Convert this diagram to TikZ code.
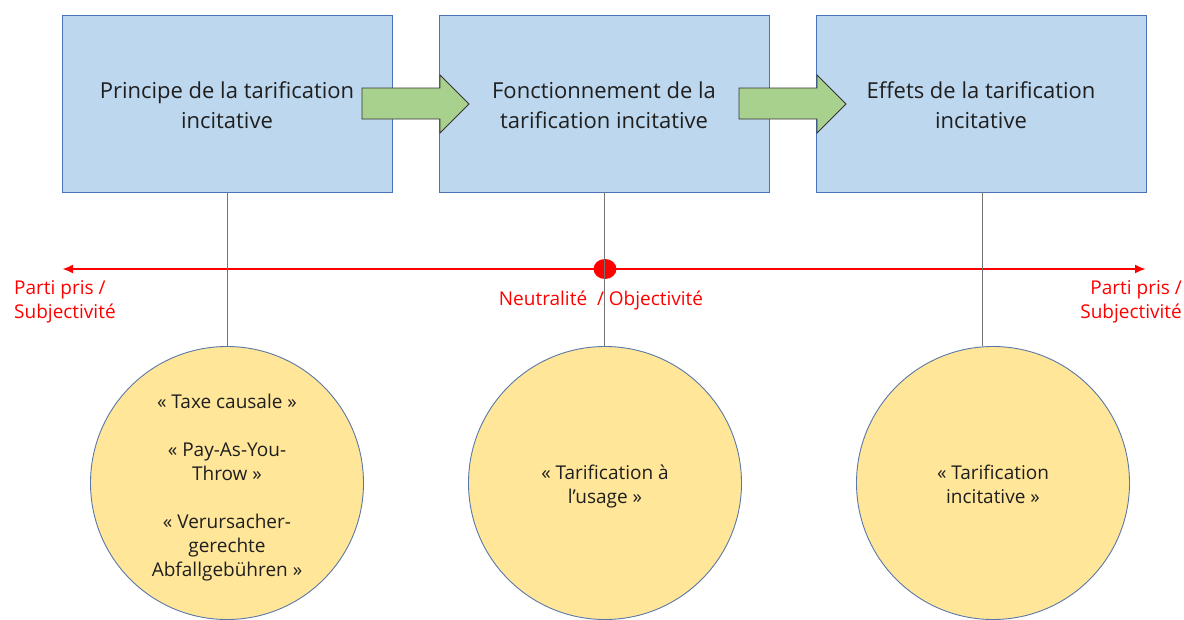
\documentclass[tikz,border=0pt]{standalone}
\usepackage{fontspec}
\setmainfont{Open Sans}
\usetikzlibrary{arrows.meta,shapes.geometric}
\definecolor{boxfill}{HTML}{BDD7EE}
\definecolor{boxdraw}{HTML}{4A72B8}
\definecolor{arrfill}{HTML}{A9D18E}
\definecolor{circfill}{HTML}{FFE699}
\definecolor{circdraw}{HTML}{5A78A8}
\definecolor{axisred}{HTML}{FF0000}
\tikzset{
  stagebox/.style={draw=boxdraw, line width=0.9pt, fill=boxfill, minimum width=330pt, minimum height=177pt, inner sep=0pt},
  boxtext/.style={align=center, inner sep=0pt, font=\fontsize{22}{30}\selectfont, text=black!88},
  bubble/.style={circle, draw=circdraw, line width=0.9pt, fill=circfill, minimum size=273pt, inner sep=0pt},
  bubbletext/.style={align=center, inner sep=0pt, font=\fontsize{19}{24}\selectfont, text=black!88},
  blockarrow/.style={draw=black!80, line width=0.9pt, fill=arrfill},
  link/.style={draw=black!55, line width=0.8pt},
  redlabel/.style={text=axisred, font=\fontsize{19}{24}\selectfont, inner sep=0pt}
}
\begin{document}
\begin{tikzpicture}[x=1pt,y=-1pt]
\useasboundingbox (0,0) rectangle (1184,619);
% boxes
\node[stagebox] (b1) at (227,103.5) {};
\node[stagebox] (b2) at (604,103.5) {};
\node[stagebox] (b3) at (981,103.5) {};
\node[boxtext] (t1) at (227,105) {Principe de la tarification\\incitative};
\node[boxtext] (t2) at (604,105) {Fonctionnement de la\\tarification incitative};
\node[boxtext] (t3) at (981,105) {Effets de la tarification\\incitative};
% block arrows
\draw[blockarrow] (362,88) -- (440,88) -- (440,75) -- (469,104) -- (440,133) -- (440,119) -- (362,119) -- cycle;
\draw[blockarrow] (739,88) -- (817,88) -- (817,75) -- (846,104) -- (817,133) -- (817,119) -- (739,119) -- cycle;
% circles
\node[bubble] (c1) at (227,483) {};
\node[bubble] (c2) at (605,483) {};
\node[bubble] (c3) at (993,483) {};
\node[bubbletext] (ct1) at (227,488) {« Taxe causale »\\[24pt]« Pay-As-You-\\Throw »\\[24pt]« Verursacher-\\gerechte\\Abfallgebühren »};
\node[bubbletext] (ct2) at (605,486) {« Tarification à\\l’usage »};
\node[bubbletext] (ct3) at (993,484) {« Tarification\\incitative »};
% axis
\coordinate (axl) at (62,269);
\coordinate (axr) at (1146,269);
\draw[axisred, line width=2.6pt, {Latex[length=11pt,width=9pt]}-{Latex[length=11pt,width=9pt]}] (axl) -- (axr);
\node[fill=axisred, ellipse, minimum width=23pt, minimum height=20pt, inner sep=0pt] (dot) at (605,269) {};
% links
\coordinate (l3top) at (982,192);
\coordinate (l3bot) at (982,346);
\draw[link] (b1.south) -- (b1.south |- c1.north);
\draw[link] (b2.south) -- (b2.south |- c2.north);
\draw[link] (l3top) -- (l3bot);
% labels
\node[redlabel, anchor=north west, align=left] (l1) at (14,280) {Parti pris /\\Subjectivité};
\node[redlabel, anchor=north east, align=right] (l3) at (1182,280) {Parti pris /\\Subjectivité};
\node[redlabel, anchor=base] (l2) at (601,305) {Neutralité~ / Objectivité};
\end{tikzpicture}
\end{document}
